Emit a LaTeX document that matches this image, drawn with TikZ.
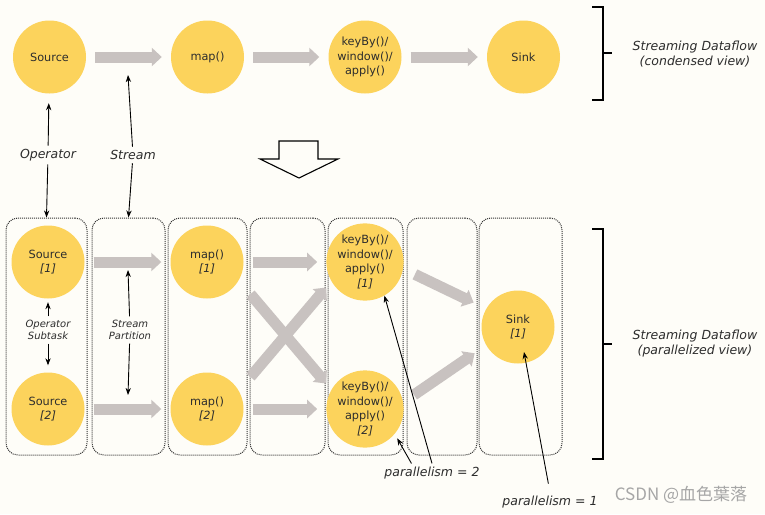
\documentclass[tikz,border=0pt]{standalone}
\usepackage{fontspec}
\setmainfont{DejaVu Sans}
\newfontfamily\cjk{Noto Sans CJK SC}
\usetikzlibrary{arrows.meta}
\definecolor{opyellow}{RGB}{252,211,92}
\definecolor{flowgray}{RGB}{200,194,192}
\definecolor{bgcream}{RGB}{254,253,248}
\definecolor{txtgray}{RGB}{45,45,45}

\begin{document}
\begin{tikzpicture}[x=1pt, y=-1pt, >=Stealth,
    op/.style={circle, fill=opyellow, minimum size=73pt, inner sep=0pt,
        align=center, text=txtgray, font=\fontsize{11.3}{14.5}\selectfont},
    flow/.style={draw=flowgray, line width=11pt,
        -{Triangle[length=10pt,width=18pt]}, shorten <=9pt, shorten >=9pt},
    lane/.style={draw=black!80, densely dotted, line width=1pt,
        rounded corners=12pt, minimum width=#1, minimum height=237pt, inner sep=0pt},
    lbl/.style={font=\fontsize{12.5}{15}\selectfont\itshape, text=txtgray, align=center},
    small/.style={font=\fontsize{10}{12.5}\selectfont\itshape, text=txtgray, align=center},
    pointer/.style={->, line width=0.9pt, black}]

    % 背景
    \fill[bgcream] (0,0) rectangle (765,514);
    \useasboundingbox (0,0) rectangle (765,514);

    % 上面一行: 压缩视图
    \node[op] (src) at (49.5,57) {Source};
    \node[op] (map) at (207.5,57) {map()};
    \node[op] (kb) at (365,57) {keyBy()/\\window()/\\apply()};
    \node[op] (sink) at (523.5,57) {Sink};
    \draw[flow] (src) -- (map);
    \draw[flow] (map) -- (kb);
    \draw[flow] (kb) -- (sink);

    % 标注 Operator 和 Stream
    \node[lbl] (opl) at (48,155) {Operator};
    \node[lbl] (stl) at (133,155) {Stream};
    \coordinate (stup) at (128,75);

    % 中间的空心箭头
    \draw[line width=1.1pt] (279,141) -- (318,141) -- (318,159) -- (338,159)
        -- (299,178) -- (260,159) -- (279,159) -- cycle;

    % 下面: 并行视图的虚线框
    \node[lane=81pt] (b1) at (46.5,336.5) {};
    \node[lane=73pt] (b2) at (128.5,336.5) {};
    \node[lane=79pt] (b3) at (207.5,336.5) {};
    \node[lane=75pt] (b4) at (287.5,336.5) {};
    \node[lane=75pt] (b5) at (365.5,336.5) {};
    \node[lane=70pt] (b6) at (442,336.5) {};
    \node[lane=83pt] (b7) at (520.5,336.5) {};

    \draw[pointer, shorten >=9.5pt] (opl) -- (src);
    \draw[pointer] (opl) -- (b1.north);
    \draw[pointer] (stl) -- (stup);
    \draw[pointer] (stl) -- (b2.north);

    % 子任务
    \node[op] (src1) at (48,262) {Source\\\textit{[1]}};
    \node[op] (src2) at (48,409) {Source\\\textit{[2]}};
    \node[op] (map1) at (207,262) {map()\\\textit{[1]}};
    \node[op] (map2) at (207,409) {map()\\\textit{[2]}};
    \node[op] (kb1) at (365,262) {keyBy()/\\window()/\\apply()\\\textit{[1]}};
    \node[op] (kb2) at (365,409) {keyBy()/\\window()/\\apply()\\\textit{[2]}};
    \node[op] (sink1) at (518,327) {Sink\\\textit{[1]}};

    \draw[flow] (src1) -- (map1);
    \draw[flow] (src2) -- (map2);
    \draw[flow] (map1) -- (kb1);
    \draw[flow] (map2) -- (kb2);
    \draw[flow, shorten <=18pt, shorten >=8pt] (map1.-30) -- (kb2.150);
    \draw[flow, shorten <=18pt, shorten >=8pt] (map2.30) -- (kb1.-150);
    \draw[flow, shorten <=13pt, shorten >=14pt] (kb1.-10) -- (sink1.150);
    \draw[flow, shorten <=13pt, shorten >=14pt] (kb2.10) -- (sink1.-150);

    % Operator Subtask / Stream Partition
    \node[small] (opst) at (48,330) {Operator\\Subtask};
    \draw[pointer, shorten >=3.5pt] (opst) -- (src1);
    \draw[pointer, shorten >=7pt] (opst) -- (src2);
    \node[small] (stp) at (130,330) {Stream\\Partition};
    \coordinate (pup) at (128,270);
    \coordinate (pdown) at (128,395);
    \draw[pointer] (stp) -- (pup);
    \draw[pointer] (stp) -- (pdown);

    % 并行度
    \node[lbl] (par2) at (432,473) {parallelism = 2};
    \draw[pointer] (par2.north) -- (kb1.-60);
    \draw[pointer, shorten >=5pt] (par2.155) -- (kb2.-40);
    \node[lbl] (par1) at (550,502) {parallelism = 1};
    \coordinate (sinkin) at (524,352);
    \draw[pointer, shorten <=9pt] (par1.north) -- (sinkin);

    % 右边的括号
    \draw[line width=1.2pt] (592,7) -- (603,7) -- (603,100) -- (592,100);
    \draw[line width=1.2pt] (603,53) -- (612,53);
    \node[lbl] (cond) at (695,54) {Streaming Dataflow\\(condensed view)};
    \draw[line width=1.2pt] (592,229) -- (603,229) -- (603,459) -- (592,459);
    \draw[line width=1.2pt] (603,344) -- (612,344);
    \node[lbl] (para) at (695,344) {Streaming Dataflow\\(parallelized view)};

    % 水印
    \node[font=\cjk\fontsize{17}{19}\selectfont, text=gray!70] (wm) at (681,495) {CSDN @血色葉落};
\end{tikzpicture}
\end{document}
